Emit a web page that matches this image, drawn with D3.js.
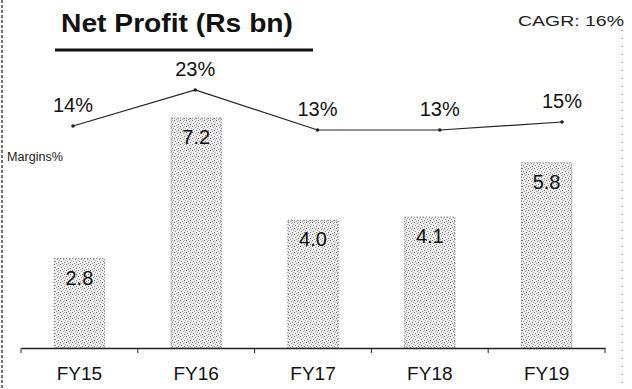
<!DOCTYPE html>
<html>
<head>
<meta charset="utf-8">
<script src="https://cdn.jsdelivr.net/npm/d3@7/dist/d3.min.js"></script>
<style>
  html, body { margin: 0; padding: 0; background: #fff; }
  svg { display: block; font-family: Arial, "Liberation Sans", sans-serif; }
</style>
</head>
<body>
<svg id="chart" width="632" height="389"></svg>
<script>
// Net profit (Rs bn) and net margin (%) by fiscal year
const years = ["FY15", "FY16", "FY17", "FY18", "FY19"];
const netProfit = [2.8, 7.2, 4.0, 4.1, 5.8];
const margins = [14, 23, 13, 13, 15];
const titleText = "Net Profit (Rs bn)";
const cagrText = "CAGR: 16%";
const marginLabel = "Margins%";

const svg = d3.select("#chart");

// Stippled fill for the bars
const defs = svg.append("defs");
const pat = defs.append("pattern")
  .attr("id", "stipple").attr("patternUnits", "userSpaceOnUse")
  .attr("width", 6).attr("height", 6);
pat.append("rect").attr("width", 6).attr("height", 6).attr("fill", "#eeeeee");
[[0,0,"#666"],[3,1,"#999"],[1,3,"#888"],[4,4,"#777"],[5,2,"#aaa"],[2,5,"#999"],[4,0,"#bbb"]].forEach(([x,y,c]) =>
  pat.append("rect").attr("x", x).attr("y", y).attr("width", 1).attr("height", 1).attr("fill", c));

// Dotted page edges
svg.append("line").attr("x1", 2).attr("x2", 2).attr("y1", 0).attr("y2", 389)
  .attr("stroke", "#444").attr("stroke-width", 1.5).attr("stroke-dasharray", "3,2");
svg.append("line").attr("x1", 622).attr("x2", 622).attr("y1", 30).attr("y2", 389)
  .attr("stroke", "#666").attr("stroke-width", 1).attr("stroke-dasharray", "1,7");

// Scales
const x = d3.scaleBand().domain(years).range([21, 605]).paddingInner(0.57).paddingOuter(0.285);
const y = d3.scaleLinear().domain([0, 7.2]).range([348, 118]);
const xm = d3.scalePoint().domain(years).range([73, 562]);
const ym = d3.scaleLinear().domain([13, 23]).range([130, 90]);

// Bars
svg.append("g").selectAll("rect").data(years).join("rect")
  .attr("x", d => x(d))
  .attr("y", (d, i) => y(netProfit[i]))
  .attr("width", x.bandwidth())
  .attr("height", (d, i) => y(0) - y(netProfit[i]))
  .attr("fill", "url(#stipple)")
  .attr("stroke", "#666").attr("stroke-width", 1).attr("stroke-dasharray", "1,2");

// Bar value labels
svg.append("g").selectAll("text").data(years).join("text")
  .attr("x", d => x(d) + x.bandwidth() / 2)
  .attr("y", (d, i) => y(netProfit[i]) + 26)
  .attr("text-anchor", "middle")
  .attr("font-size", 20).attr("fill", "#111")
  .text((d, i) => netProfit[i].toFixed(1));

// Category axis
const axis = d3.axisBottom(x).tickSize(0).tickPadding(19);
const gx = svg.append("g").attr("transform", "translate(0,348)").call(axis);
gx.select(".domain").attr("stroke", "#222").attr("stroke-width", 1.4);
gx.selectAll("text").attr("font-size", 19).attr("fill", "#111")
  .attr("font-family", "Arial, 'Liberation Sans', sans-serif");
// Ticks between categories
const step = x.step();
const bounds = d3.range(0, years.length + 1).map(i => 21 + i * step);
gx.selectAll(".bound").data(bounds).join("line").attr("class", "bound")
  .attr("x1", d => d).attr("x2", d => d).attr("y1", 0).attr("y2", 5)
  .attr("stroke", "#222").attr("stroke-width", 1);

// Margin line
const line = d3.line().x((d, i) => xm(years[i])).y(d => ym(d));
svg.append("path").datum(margins).attr("d", line)
  .attr("fill", "none").attr("stroke", "#222").attr("stroke-width", 1.2);
svg.append("g").selectAll("circle").data(margins).join("circle")
  .attr("cx", (d, i) => xm(years[i])).attr("cy", d => ym(d)).attr("r", 1.8)
  .attr("fill", "#222");
svg.append("g").selectAll("text").data(margins).join("text")
  .attr("x", (d, i) => xm(years[i]))
  .attr("y", d => ym(d) - 14)
  .attr("text-anchor", "middle")
  .attr("font-size", 20).attr("fill", "#111")
  .text(d => d + "%");

svg.append("text").attr("x", 7).attr("y", 161)
  .attr("font-size", 12).attr("fill", "#222")
  .attr("textLength", 56).attr("lengthAdjust", "spacingAndGlyphs")
  .text(marginLabel);

// Title and underline
svg.append("text").attr("x", 61).attr("y", 32)
  .attr("font-size", 26).attr("font-weight", "bold").attr("fill", "#111")
  .attr("textLength", 232).attr("lengthAdjust", "spacingAndGlyphs")
  .text(titleText);
svg.append("line").attr("x1", 55).attr("x2", 313).attr("y1", 50).attr("y2", 50)
  .attr("stroke", "#111").attr("stroke-width", 3);

svg.append("text").attr("x", 518).attr("y", 26)
  .attr("font-size", 15).attr("fill", "#222")
  .attr("textLength", 106).attr("lengthAdjust", "spacingAndGlyphs")
  .text(cagrText);
</script>
</body>
</html>
